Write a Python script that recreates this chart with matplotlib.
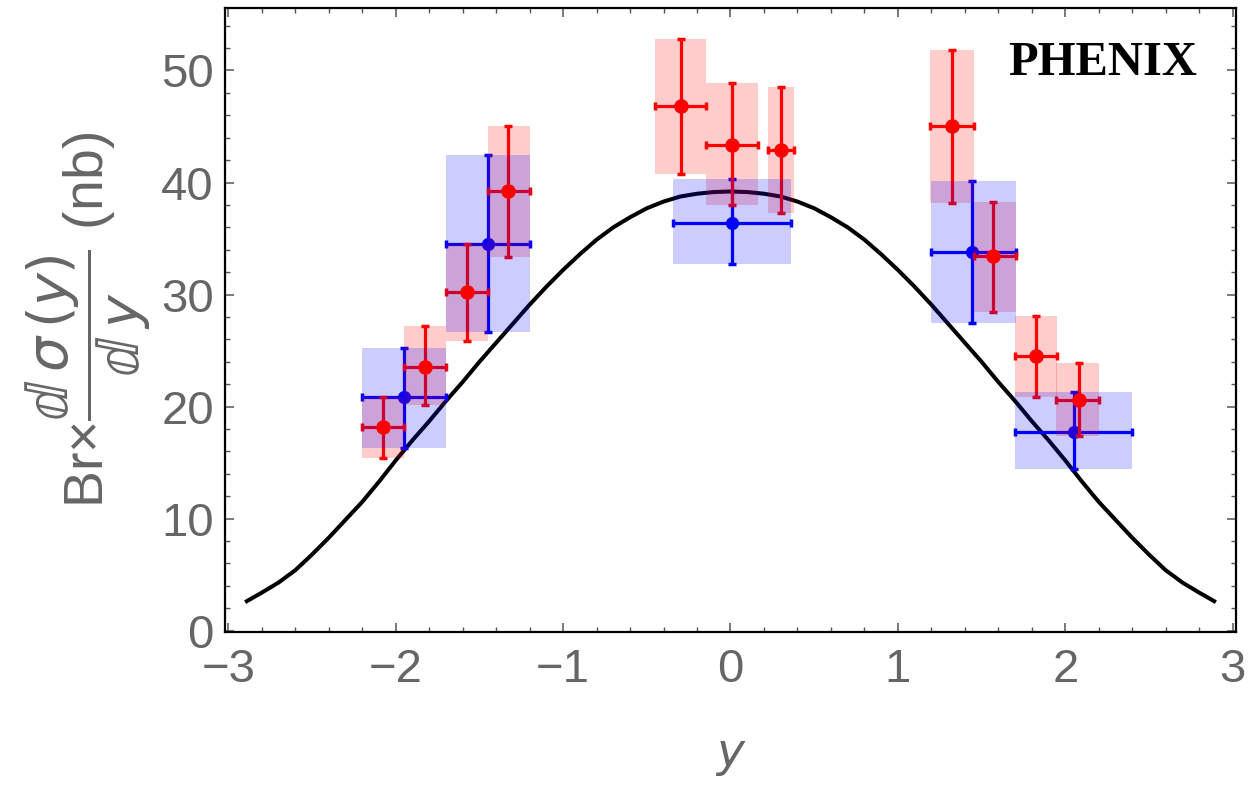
import matplotlib
matplotlib.use("Agg")
import matplotlib.pyplot as plt
from matplotlib.patches import Rectangle

# ---- data ----
# red series (PHENIX set 1)
red_x    = [-2.075, -1.826, -1.577, -1.328, -0.297, 0.011, 0.300, 1.322, 1.571, 1.826, 2.081]
red_y    = [18.21, 23.57, 30.27, 39.20, 46.85, 43.37, 42.92, 45.00, 33.46, 24.53, 20.60]
red_ylo  = [15.39, 20.15, 25.89, 33.39, 40.78, 37.99, 37.32, 38.16, 28.48, 20.84, 17.38]
red_yhi  = [20.89, 27.21, 34.53, 45.00, 52.83, 48.88, 48.50, 51.85, 38.25, 28.10, 23.88]
red_xlo  = [-2.204, -1.951, -1.700, -1.451, -0.453, -0.144, 0.224, 1.193, 1.452, 1.697, 1.946]
red_xhi  = [-1.951, -1.700, -1.451, -1.199, -0.148, 0.164, 0.379, 1.452, 1.707, 1.952, 2.204]

# blue series (PHENIX set 2)
blue_x   = [-1.949, -1.451, 0.011, 1.444, 2.051]
blue_y   = [20.84, 34.53, 36.43, 33.84, 17.77]
blue_ylo = [16.29, 26.64, 32.71, 27.50, 14.41]
blue_yhi = [25.27, 42.47, 40.30, 40.18, 21.34]
blue_xlo = [-2.204, -1.700, -0.343, 1.199, 1.697]
blue_xhi = [-1.700, -1.199, 0.364, 1.707, 2.399]

# theory curve
curve_x = [-2.9, -2.8, -2.7, -2.6, -2.5, -2.4, -2.3, -2.2, -2.1, -2.0, -1.9, -1.8, -1.7, -1.6, -1.5,
           -1.4, -1.3, -1.2, -1.1, -1.0, -0.9, -0.8, -0.7, -0.6, -0.5, -0.4, -0.3, -0.2, -0.1, 0.0,
           0.1, 0.2, 0.3, 0.4, 0.5, 0.6, 0.7, 0.8, 0.9, 1.0, 1.1, 1.2, 1.3, 1.4, 1.5,
           1.6, 1.7, 1.8, 1.9, 2.0, 2.1, 2.2, 2.3, 2.4, 2.5, 2.6, 2.7, 2.8, 2.9]
curve_y = [2.55, 3.4, 4.3, 5.4, 6.8, 8.3, 9.9, 11.5, 13.3, 15.2, 17.0, 18.7, 20.5, 22.2, 24.0,
           25.7, 27.4, 29.1, 30.7, 32.2, 33.6, 34.9, 36.0, 36.9, 37.7, 38.3, 38.75, 39.0, 39.15, 39.2,
           39.15, 39.0, 38.75, 38.3, 37.7, 36.9, 36.0, 34.9, 33.6, 32.2, 30.7, 29.1, 27.4, 25.7, 24.0,
           22.2, 20.5, 18.7, 17.0, 15.2, 13.3, 11.5, 9.9, 8.3, 6.8, 5.4, 4.3, 3.4, 2.55]

x_ticks = [-3, -2, -1, 0, 1, 2, 3]
x_ticklabels = ['\u22123', '\u22122', '\u22121', '0', '1', '2', '3']
y_ticks = [0, 10, 20, 30, 40, 50]

# ---- figure ----
fig = plt.figure(figsize=(12.5, 7.88), dpi=100)
ax = fig.add_axes([0.18, 0.1976, 0.8088, 0.7926])

gray = '#666666'
RED = (1, 0, 0)
BLUE = (0, 0, 1)

ax.plot(curve_x, curve_y, color='black', lw=2.9, zorder=1, solid_capstyle='butt')

def boxes(xlo, xhi, ylo, yhi, color, z):
    for a, b, c, d in zip(xlo, xhi, ylo, yhi):
        ax.add_patch(Rectangle((a, c), b - a, d - c, facecolor=color, alpha=0.2,
                               edgecolor='none', zorder=z))

def bars(x, y, xlo, xhi, ylo, yhi, color, z):
    xerr = [[xi - a for xi, a in zip(x, xlo)], [b - xi for xi, b in zip(x, xhi)]]
    yerr = [[yi - c for yi, c in zip(y, ylo)], [d - yi for yi, d in zip(y, yhi)]]
    ax.errorbar(x, y, xerr=xerr, yerr=yerr, fmt='none', ecolor=color,
                elinewidth=2.3, capsize=3.0, capthick=2.5, zorder=z)

bars(blue_x, blue_y, blue_xlo, blue_xhi, blue_ylo, blue_yhi, BLUE, 2)
ax.plot(blue_x, blue_y, 'o', color=BLUE, ms=8.5, zorder=2.5, linestyle='none')
boxes(red_xlo, red_xhi, red_ylo, red_yhi, RED, 3)
bars(red_x, red_y, red_xlo, red_xhi, red_ylo, red_yhi, RED, 4)
boxes(blue_xlo, blue_xhi, blue_ylo, blue_yhi, BLUE, 5)
ax.plot(red_x, red_y, 'o', color=RED, ms=9.5, zorder=6, linestyle='none')

ax.set_xlim(-3.02, 3.02)
ax.set_ylim(-0.14, 55.6)
ax.set_xticks(x_ticks)
ax.set_yticks(y_ticks)
ax.set_xticklabels(x_ticklabels)
ax.set_xticks([v / 5 for v in range(-15, 16)], minor=True)
ax.set_yticks(list(range(0, 56, 2)), minor=True)

for s in ax.spines.values():
    s.set_linewidth(1.6)
    s.set_color('black')

ax.tick_params(which='both', direction='in', top=True, right=True, color='#555555')
ax.tick_params(which='major', length=6.5, width=1.1, labelsize=34, labelcolor=gray)
ax.tick_params(axis='x', which='major', pad=11)
ax.tick_params(axis='y', which='major', pad=8)
ax.tick_params(which='minor', length=3.6, width=1.0)
# faint ticks on top/right
for tl in ax.xaxis.get_majorticklines()[1::2] + ax.xaxis.get_minorticklines()[1::2]:
    tl.set_color('#d8d8d8')
for tl in ax.yaxis.get_majorticklines()[1::2] + ax.yaxis.get_minorticklines()[1::2]:
    tl.set_color('#d8d8d8')

for lab in ax.get_xticklabels() + ax.get_yticklabels():
    lab.set_family('Liberation Sans')

ax.set_xlabel('$y$', fontsize=34, color=gray, labelpad=30)
ax.set_ylabel('Br\u00d7$\\dfrac{\u2146\\,\\sigma\\,(y)}{\u2146\\,y}$ (nb)', fontsize=40, color=gray,
              labelpad=6, family='Liberation Sans')

ax.text(0.868, 0.911, 'PHENIX', transform=ax.transAxes, ha='center', va='center',
        fontsize=35, fontweight='bold', family='Liberation Serif', color='black', zorder=10)

fig.savefig('out.png', dpi=100)
